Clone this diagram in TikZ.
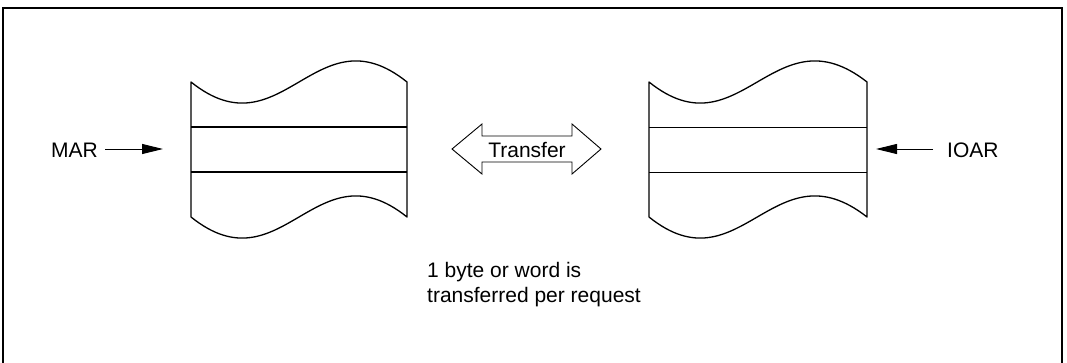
\documentclass[tikz,border=0pt]{standalone}
\usepackage{fontspec}
\setmainfont{Liberation Sans}
\usetikzlibrary{arrows.meta}
\begin{document}
\begin{tikzpicture}[x=1pt,y=-1pt,
  shp/.style={line width=1.3pt, line join=round},
  thin line/.style={line width=0.8pt},
  lbl/.style={font=\fontsize{21}{25}\selectfont, inner sep=0pt},
  ptr/.style={line width=0.9pt, -{Triangle[length=21pt,width=10pt]}}]
\useasboundingbox (0,0) rectangle (1067,362);
\clip (0,0) rectangle (1067,362);
\fill[white] (0,0) rectangle (1067,362);
\draw[line width=2pt] (3,380) -- (3,8) -- (1062,8) -- (1062,380);
% left register
\draw[shp] (191,217) -- (191,82) .. controls (282,155) and (316,9) .. (407,82) -- (407,217)
  .. controls (316,144) and (282,290) .. (191,217);
\draw[shp] (191,127) -- (407,127);
\draw[shp] (191,172) -- (407,172);
\coordinate (lin) at (163,149);
% right register
\draw[shp] (649,217) -- (649,82) .. controls (740,155) and (774,9) .. (867,82) -- (867,217)
  .. controls (774,144) and (740,290) .. (649,217);
\draw[thin line] (649,127) -- (867,127);
\draw[thin line] (649,172) -- (867,172);
\coordinate (rin) at (876,149);
% labels
\node[lbl, anchor=east] (mar) at (98,150) {MAR};
\node[lbl, anchor=west] (ioar) at (947,150) {IOAR};
\coordinate (mt) at (105,149);
\coordinate (it) at (933,149);
\draw[ptr] (mt) -- (lin);
\draw[ptr] (it) -- (rin);
% transfer arrow
\draw[line width=0.9pt, line join=miter] (452,149) -- (482,124) -- (482,136) -- (572,136) -- (572,124)
  -- (601,149) -- (572,174) -- (572,162) -- (482,162) -- (482,174) -- cycle;
\node[lbl] (tr) at (527,150) {Transfer};
\node[lbl, anchor=north west, align=left] (note) at (427,262) {1 byte or word is\\transferred per request};
\end{tikzpicture}
\end{document}
